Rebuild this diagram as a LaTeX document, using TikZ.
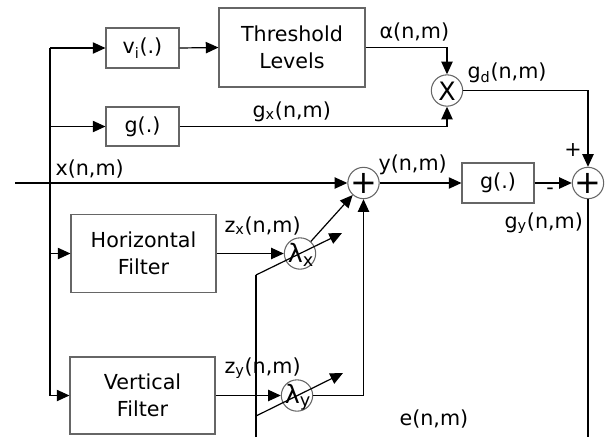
\documentclass[tikz,border=0pt]{standalone}
\usepackage{fontspec}
\setmainfont{DejaVu Sans}
\usetikzlibrary{arrows.meta}
\begin{document}
\begin{tikzpicture}[x=0.75pt,y=-0.75pt,
  font=\fontsize{15.5pt}{20pt}\selectfont,
  line width=0.9pt,
  arr/.style={-{Triangle[length=9.5pt,width=8.5pt]}},
  blk/.style={draw=black!60,line width=0.8pt,rectangle,inner sep=0pt,align=center},
  circ/.style={draw=black!60,line width=0.8pt,circle,inner sep=0pt,minimum size=23.5pt},
  lbl/.style={anchor=base west,inner sep=0pt},
  cplus/.style={inner sep=0pt,font=\fontsize{24pt}{24pt}\selectfont},
  ctext/.style={inner sep=0pt,font=\fontsize{19pt}{20pt}\selectfont}]
\useasboundingbox (0,0) rectangle (608,437);
% blocks
\node[blk,minimum width=54.75pt,minimum height=30pt] (vi) at (142.5,48) {v\textsubscript{i}(.)};
\node[blk,minimum width=109.5pt,minimum height=59.25pt] (thr) at (292,47.5) {Threshold\\Levels};
\node[blk,minimum width=54.75pt,minimum height=29.25pt] (g1) at (142.5,126.5) {g(.)};
\node[blk,minimum width=54pt,minimum height=30pt] (g2) at (498,183) {g(.)};
\node[blk,minimum width=108.75pt,minimum height=58.5pt] (hf) at (143.5,253.5) {Horizontal\\Filter};
\node[blk,minimum width=108.75pt,minimum height=57.75pt] (vf) at (142.5,395.5) {Vertical\\Filter};
% circles
\node[circ] (X) at (447,90.5) {};
\node[ctext] (Xt) at (447,91) {X};
\node[circ] (s1) at (363.5,183) {};
\node[cplus] (s1t) at (363.5,183) {+};
\node[circ] (s2) at (588,183) {};
\node[cplus] (s2t) at (588,183) {+};
\node[circ] (lx) at (300,253.5) {};
\node[ctext] (lxt) at (301,255) {λ\textsubscript{x}};
\node[circ] (ly) at (297,395.5) {};
\node[ctext] (lyt) at (298,397) {λ\textsubscript{y}};
% coordinates
\coordinate (bt) at (50,48);
\coordinate (bb) at (50,395.5);
\coordinate (in) at (15,183);
\coordinate (rb) at (588,437);
\coordinate (eb) at (256,437);
\coordinate (e1) at (256,275);
\coordinate (e1t) at (342,233);
\coordinate (e2) at (256,416);
\coordinate (e2t) at (343,373);
% bus
\draw (bt) -- (bb);
\draw[arr] (bt) -- (vi.west);
\draw[arr] (bt |- g1.west) -- (g1.west);
\draw[arr] (bt |- hf.west) -- (hf.west);
\draw[arr] (bb) -- (vf.west);
% top path
\draw[arr] (vi.east) -- (thr.west);
\draw[arr] (thr.east) -| (X.north);
\draw[arr] (g1.east) -| (X.south);
\draw[arr] (X.east) -| (s2.north);
% main line
\draw[arr] (in) -- (s1.west);
\draw[arr] (s1.east) -- (g2.west);
\draw[arr] (g2.east) -- (s2.west);
\draw (s2.south) -- (rb);
% filters
\draw[arr] (hf.east) -- (lx.west);
\draw[arr] (vf.east) -- (ly.west);
\draw[arr] (lx) -- (s1);
\draw[arr] (ly.east) -| (s1.south);
% e line
\draw (eb) -- (e1);
\draw[arr] (e1) -- (e1t);
\draw[arr] (e2) -- (e2t);
% labels
\node[lbl] (lx1) at (55,175) {x(n,m)};
\node[lbl] (lal) at (379,38) {α(n,m)};
\node[lbl] (lgx) at (252,117) {g\textsubscript{x}(n,m)};
\node[lbl] (lgd) at (467,78) {g\textsubscript{d}(n,m)};
\node[inner sep=0pt] (lplus) at (573,150) {+};
\node[lbl] (ly1) at (378,170) {y(n,m)};
\node[inner sep=0pt] (lminus) at (550,191) {-};
\node[lbl] (lgy) at (504,228) {g\textsubscript{y}(n,m)};
\node[lbl] (lzx) at (224,232) {z\textsubscript{x}(n,m)};
\node[lbl] (lzy) at (224,373) {z\textsubscript{y}(n,m)};
\node[lbl] (le) at (399,425) {e(n,m)};
\end{tikzpicture}
\end{document}
